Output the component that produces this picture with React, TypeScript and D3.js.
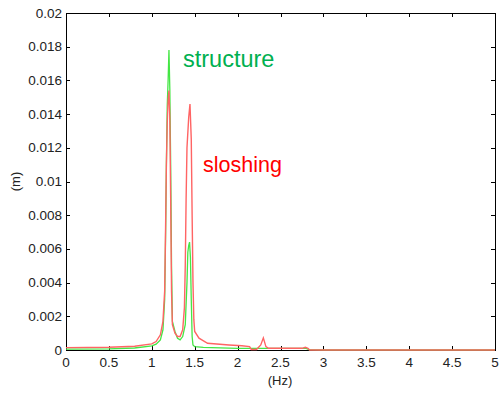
import React from "react";
import * as d3 from "d3";

const xTicks = [0, 0.5, 1, 1.5, 2, 2.5, 3, 3.5, 4, 4.5, 5];
const yTicks = [0, 0.002, 0.004, 0.006, 0.008, 0.01, 0.012, 0.014, 0.016, 0.018, 0.02];
const yTickLabels = ["0", "0.002", "0.004", "0.006", "0.008", "0.01", "0.012", "0.014", "0.016", "0.018", "0.02"];

const structureFreq = [0, 0.5, 0.8, 1.0, 1.05, 1.1, 1.13, 1.15, 1.16, 1.17, 1.18, 1.19, 1.2, 1.21, 1.22, 1.23, 1.24, 1.27, 1.3, 1.33, 1.36, 1.39, 1.41, 1.42, 1.43, 1.44, 1.45, 1.46, 1.47, 1.48, 1.5, 1.6, 2.0, 2.5, 2.8, 2.83, 3.0, 5.0];
const structureAmp = [0.00005, 0.00007, 0.00012, 0.00025, 0.00035, 0.0006, 0.0012, 0.003, 0.0065, 0.011, 0.0145, 0.016, 0.0178, 0.0155, 0.011, 0.005, 0.0017, 0.0011, 0.0007, 0.0006, 0.0008, 0.0015, 0.004, 0.0058, 0.0062, 0.0064, 0.0055, 0.003, 0.0008, 0.0003, 0.0002, 0.00015, 0.0001, 0.0001, 0.0001, 0.00002, 0, 0];

const sloshingFreq = [0, 0.5, 0.8, 1.0, 1.05, 1.1, 1.13, 1.15, 1.16, 1.17, 1.18, 1.19, 1.2, 1.21, 1.22, 1.23, 1.24, 1.27, 1.3, 1.33, 1.36, 1.38, 1.39, 1.4, 1.41, 1.43, 1.445, 1.46, 1.47, 1.48, 1.49, 1.5, 1.55, 1.65, 1.9, 2.05, 2.14, 2.16, 2.22, 2.27, 2.3, 2.33, 2.36, 2.5, 2.75, 2.79, 2.82, 2.84, 5.0];
const sloshingAmp = [0.00014, 0.00016, 0.00022, 0.00036, 0.0005, 0.0009, 0.0017, 0.0035, 0.007, 0.011, 0.0135, 0.0148, 0.0154, 0.0138, 0.009, 0.0035, 0.0015, 0.001, 0.0008, 0.0008, 0.0012, 0.0025, 0.005, 0.009, 0.012, 0.0138, 0.0146, 0.0125, 0.008, 0.004, 0.0018, 0.0011, 0.0007, 0.0004, 0.0003, 0.00025, 0.0002, 0.00003, 0.00003, 0.0003, 0.00072, 0.0002, 0.0001, 0.0001, 0.0001, 0.00016, 0.0001, 0, 0];

const W = 504, H = 394;
const L = 66, T = 13, R = 495, B = 350;
const font = "'Liberation Sans', Arial, sans-serif";

export default function App() {
  const x = d3.scaleLinear().domain([0, 5]).range([L, R]);
  const y = d3.scaleLinear().domain([0, 0.02]).range([B, T]);
  const line = d3.line<[number, number]>().x(d => x(d[0])).y(d => y(d[1]));
  const sData = structureFreq.map((f, i) => [f, structureAmp[i]] as [number, number]);
  const lData = sloshingFreq.map((f, i) => [f, sloshingAmp[i]] as [number, number]);
  const tl = 4;
  return (
    <svg width={W} height={H} style={{ position: "fixed", left: 0, top: 0, background: "#fff" }} fontFamily={font}>
      <rect x={0} y={0} width={W} height={H} fill="#fff" />
      <rect x={L + 0.5} y={T + 0.5} width={R - L} height={B - T} fill="none" stroke="#000" strokeWidth={1} />
      {xTicks.map((t, i) => (
        <g key={"x" + i}>
          <line x1={Math.round(x(t)) + 0.5} x2={Math.round(x(t)) + 0.5} y1={B} y2={B - tl} stroke="#000" />
          <line x1={Math.round(x(t)) + 0.5} x2={Math.round(x(t)) + 0.5} y1={T} y2={T + tl} stroke="#000" />
          <text x={x(t)} y={367} fontSize={13.5} textAnchor="middle" fill="#222">{String(t)}</text>
        </g>
      ))}
      {yTicks.map((t, i) => (
        <g key={"y" + i}>
          <line x1={L} x2={L + tl} y1={Math.round(y(t)) + 0.5} y2={Math.round(y(t)) + 0.5} stroke="#000" />
          <line x1={R} x2={R - tl} y1={Math.round(y(t)) + 0.5} y2={Math.round(y(t)) + 0.5} stroke="#000" />
          <text x={62} y={y(t) + 4.5} fontSize={13.5} textAnchor="end" fill="#222">{yTickLabels[i]}</text>
        </g>
      ))}
      <path d={line(sData) || ""} fill="none" stroke="#44e644" strokeWidth={1.3} />
      <path d={line(lData) || ""} fill="none" stroke="#ff6464" strokeWidth={1.4} />
      <text x={280} y={385} fontSize={13} textAnchor="middle" fill="#222">(Hz)</text>
      <text transform={`translate(20,${(T + B) / 2}) rotate(-90)`} fontSize={13} textAnchor="middle" fill="#222">(m)</text>
      <text x={183} y={67} fontSize={23.5} fill="#00b050">structure</text>
      <text x={203} y={172} fontSize={21.5} fill="#ff0000">sloshing</text>
    </svg>
  );
}
